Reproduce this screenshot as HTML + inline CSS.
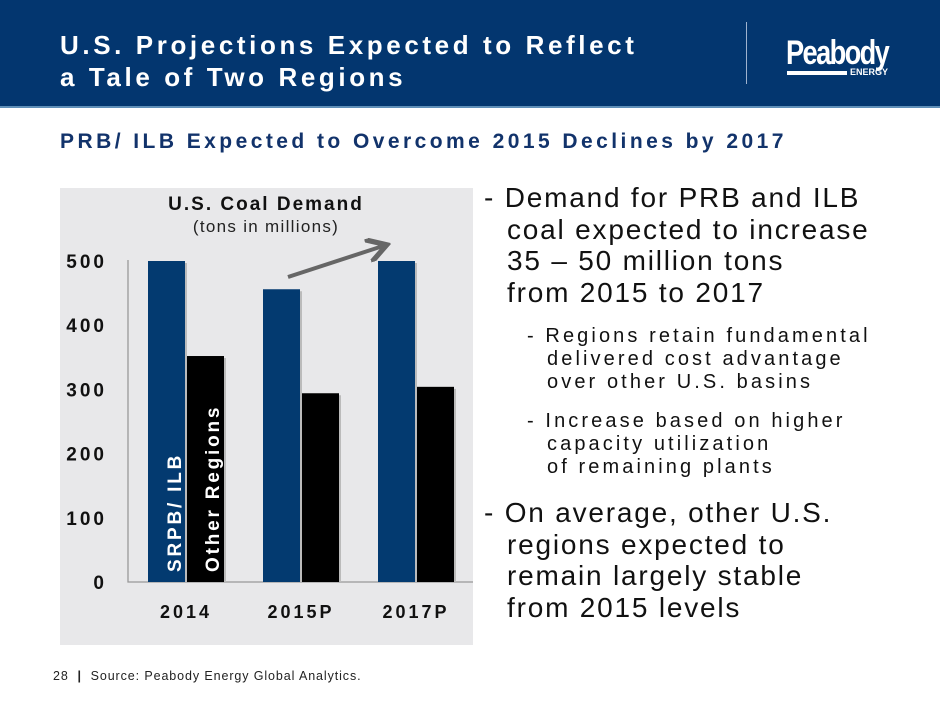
<!DOCTYPE html>
<html><head><meta charset="utf-8"><style>
body{margin:0;width:940px;height:705px;background:#fff;position:relative;overflow:hidden;font-family:"Liberation Sans",sans-serif;}
.abs{position:absolute;white-space:nowrap;}
#hdr{left:0;top:0;width:940px;height:106px;background:#03366f;border-bottom:2px solid #5f8fb8;}
.t{color:#fff;font-size:26px;font-weight:bold;letter-spacing:3.6px;left:60px;}
.sub{color:#12336b;font-weight:bold;font-size:21px;letter-spacing:3.45px;left:60px;top:130px;}
.main{font-size:28px;letter-spacing:1.8px;color:#111;line-height:31.5px;}
.small{font-size:20px;letter-spacing:3.1px;color:#111;line-height:23px;}
.ind{padding-left:23px;}
.ind2{padding-left:20px;}
</style></head><body>
<div id="hdr" class="abs"></div>
<div class="abs t" style="top:30px">U.S. Projections Expected to Reflect</div>
<div class="abs t" style="top:62px">a Tale of Two Regions</div>
<div class="abs" style="left:746px;top:22px;width:1px;height:62px;background:#9fb3cf"></div>
<div class="abs" style="left:786px;top:34px;color:#fff;font-weight:bold;font-size:34px;letter-spacing:-2px;transform:scaleX(0.8);transform-origin:left">Peabody</div>
<div class="abs" style="left:787px;top:71px;width:60px;height:4px;background:#fff"></div>
<div class="abs" style="left:850px;top:67px;color:#fff;font-weight:bold;font-size:9px">ENERGY</div>
<div class="abs sub">PRB/ ILB Expected to Overcome 2015 Declines by 2017</div>

<svg class="abs" style="left:0;top:0" width="940" height="705">
<defs><marker id="ah" markerWidth="6" markerHeight="6" refX="4" refY="3" orient="auto"><path d="M0,0 L5,3 L0,6" fill="none" stroke="#666" stroke-width="1.3"/></marker></defs>
<rect x="60" y="188" width="413" height="457" fill="#e8e8ea"/>
<g id="plot"></g>
<text x="266" y="210" text-anchor="middle" font-size="19" font-weight="bold" letter-spacing="2" fill="#111">U.S. Coal Demand</text>
<text x="266" y="232" text-anchor="middle" font-size="17" letter-spacing="1.3" fill="#222">(tons in millions)</text>
<line x1="288" y1="277" x2="383" y2="246" stroke="#666" stroke-width="4" marker-end="url(#ah)"/>
</svg>

<div class="abs main" style="left:484px;top:182px">- Demand for PRB and ILB<br><span class="ind">coal expected to increase</span><br><span class="ind">35 – 50 million tons</span><br><span class="ind">from 2015 to 2017</span></div>
<div class="abs small" style="left:527px;top:325px">- Regions retain fundamental<br><span class="ind2">delivered cost advantage</span><br><span class="ind2">over other U.S. basins</span></div>
<div class="abs small" style="left:527px;top:410px">- Increase based on higher<br><span class="ind2">capacity utilization</span><br><span class="ind2">of remaining plants</span></div>
<div class="abs main" style="left:484px;top:497px">- On average, other U.S.<br><span class="ind">regions expected to</span><br><span class="ind">remain largely stable</span><br><span class="ind">from 2015 levels</span></div>

<div class="abs" style="left:53px;top:669px;font-size:12.5px;letter-spacing:0.9px;color:#222">28&nbsp;&nbsp;<b>|</b>&nbsp;&nbsp;Source: Peabody Energy Global Analytics.</div>

<script>
const categories = ["2014","2015P","2017P"];
const prbIlb = [500,456,500];
const otherRegions = [352,294,304];
const yTicks = [0,100,200,300,400,500];
const NS="http://www.w3.org/2000/svg";
const g=document.getElementById('plot');
const y0=582, yScale=321/500;
function yPos(v){return y0 - v*yScale;}
function xGroup(i){return 148 + i*115;}
function mk(tag,attrs){const e=document.createElementNS(NS,tag);for(const k in attrs)e.setAttribute(k,attrs[k]);g.appendChild(e);return e;}
const ax=mk('path',{d:'M128,260 L128,582 L473,582',stroke:'#999','stroke-width':1.3,fill:'none'});


yTicks.forEach(v=>{
  const t=mk('text',{x:107,y:yPos(v)+7,'text-anchor':'end','font-size':19,'font-weight':'bold','letter-spacing':3,fill:'#111'});
  t.textContent=v;
  
  
});
categories.forEach((c,i)=>{
  const x=xGroup(i);
  [[prbIlb[i],'#033a70',x,'bar-prb-ilb'],[otherRegions[i],'#000',x+39,'bar-other-regions']].forEach(([v,col,bx,name])=>{
    const sh=mk('rect',{x:bx+2,y:yPos(v)+2,width:37,height:y0-yPos(v)-2,fill:'#bbb'});
    
    
    const r=mk('rect',{x:bx,y:yPos(v),width:37,height:y0-yPos(v),fill:col});
    
    
  });
  const t=mk('text',{x:x+38,y:618,'text-anchor':'middle','font-size':18,'font-weight':'bold','letter-spacing':3,fill:'#111'});
  t.textContent=c;
  
  
});
const l1=mk('text',{transform:'translate(181,572) rotate(-90)','font-size':19,'font-weight':'bold','letter-spacing':2.8,fill:'#fff'});
l1.textContent='SRPB/ ILB';


const l2=mk('text',{transform:'translate(219,572) rotate(-90)','font-size':19,'font-weight':'bold','letter-spacing':2.8,fill:'#fff'});
l2.textContent='Other Regions';


</script>
</body></html>
